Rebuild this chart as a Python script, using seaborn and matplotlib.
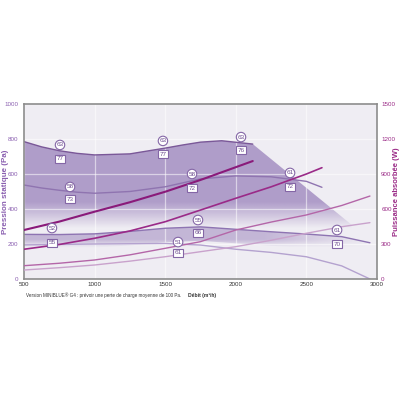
import numpy as np
import pandas as pd
import seaborn as sns
import matplotlib.pyplot as plt
from matplotlib.patches import Polygon
from matplotlib.colors import to_rgb

# Pressure curves (Pa) vs airflow (m3/h)
x_top = [500, 625, 750, 875, 1000, 1250, 1500, 1625, 1750, 1900, 2120]
p_top = [785, 755, 733, 718, 709, 715, 748, 766, 782, 790, 771]
x_mid = [500, 625, 750, 875, 1000, 1250, 1500, 1750, 2000, 2250, 2500, 2610]
p_mid = [537, 520, 507, 496, 490, 500, 527, 572, 589, 584, 558, 524]
x_low = [500, 750, 1000, 1250, 1500, 1750, 2000, 2250, 2500, 2750, 2950]
p_low = [255, 254, 258, 272, 290, 298, 284, 270, 257, 242, 207]
x_min = [500, 1000, 1500, 1750, 2000, 2250, 2500, 2750, 2950]
p_min = [195, 200, 203, 194, 170, 152, 127, 75, 0]

# Absorbed power curves (W)
x_w1 = [500, 750, 1000, 1250, 1500, 1750, 2120]
w1 = [420, 492, 577, 658, 748, 849, 1011]
x_w2 = [500, 750, 1000, 1250, 1500, 1750, 2000, 2250, 2500, 2610]
w2 = [255, 296, 349, 412, 491, 591, 692, 790, 900, 954]
x_w3 = [500, 750, 1000, 1250, 1500, 1750, 2000, 2250, 2500, 2750, 2950]
w3 = [114, 135, 163, 207, 263, 320, 420, 488, 549, 630, 711]
x_w4 = [500, 750, 1000, 1250, 1500, 1750, 2000, 2250, 2500, 2750, 2950]
w4 = [77, 97, 120, 153, 191, 234, 277, 332, 392, 448, 483]

# Sound labels: circle value / square value
circle_vals = ["63", "63", "63", "58", "58", "61", "52", "55", "51", "61"]
square_vals = ["77", "77", "76", "73", "72", "72", "55", "66", "61", "70"]
label_x = [755, 1484, 2037, 826, 1690, 2384, 698, 1732, 1591, 2717]
circle_y = [766, 789, 811, 526, 600, 606, 291, 337, 211, 280]
square_y = [686, 714, 737, 457, 520, 526, 206, 263, 149, 200]

x_ticks = [500, 1000, 1500, 2000, 2500, 3000]
p_ticks = [0, 200, 400, 600, 800, 1000]
w_ticks = [0, 300, 600, 900, 1200, 1500]

sns.set_style("white")
plt.rcParams['font.family'] = ['Liberation Sans', 'DejaVu Sans']

LABEL_PURPLE = '#8a5fb0'
MAGENTA = '#9a2a86'
FILL = '#7c5ca8'

fig = plt.figure(figsize=(4, 4), dpi=100)
ax = fig.add_axes([0.06, 0.3025, 0.8825, 0.4375])
ax.set_facecolor('#efedf3')


def gradient_fill(ax, xs, ys, alpha_fn, color):
    poly = Polygon(np.column_stack([xs, ys]), closed=True, fc='none', ec='none')
    ax.add_patch(poly)
    gx, gy = np.meshgrid(np.linspace(500, 3000, 300), np.linspace(0, 1000, 300))
    img = np.zeros((300, 300, 4))
    img[..., :3] = to_rgb(color)
    img[..., 3] = alpha_fn(gx, gy)
    im = ax.imshow(img, extent=[500, 3000, 0, 1000], origin='lower',
                   aspect='auto', zorder=1, interpolation='bilinear')
    im.set_clip_path(poly)


# upper shaded region (high/medium speed)
top_xs = x_top + [2820, 2820, 500]
top_ys = p_top + [310, 240, 240]
gradient_fill(ax, top_xs, top_ys,
              lambda gx, gy: np.clip((gy - 290) / 150, 0, 1) * 0.55,
              FILL)

# lower shaded band (low speed)
low_xs = x_low + x_low[::-1]
low_ys = p_low + [v - 80 for v in p_low[::-1]]
gradient_fill(ax, low_xs, low_ys,
              lambda gx, gy: np.clip((gy - 180) / 45, 0, 1) * 0.38
              * np.clip((3000 - gx) / 800, 0, 1),
              FILL)

pres = [(x_top, p_top, '#7a5898', 1.0), (x_mid, p_mid, '#8f74b0', 1.0),
        (x_low, p_low, '#8e74b2', 1.0), (x_min, p_min, '#b4a2cf', 1.0)]
for xs, ys, c, lw in pres:
    sns.lineplot(x=xs, y=ys, ax=ax, color=c, lw=lw, zorder=2)

ax.set_xlim(500, 3000)
ax.set_ylim(0, 1000)
ax.set_xticks(x_ticks)
ax.set_yticks(p_ticks)
ax.set_axisbelow('line')
ax.grid(True, color='white', lw=0.9, alpha=0.55)
for s in ax.spines.values():
    s.set_color('#8c8c8c')
    s.set_linewidth(1.2)
ax.tick_params(axis='x', labelsize=4.5, colors='#333333', length=0, pad=2)
ax.tick_params(axis='y', labelsize=4.5, colors=LABEL_PURPLE, length=0, pad=4)
ax.set_ylabel("Pression statique (Pa)", fontsize=5.8, color=LABEL_PURPLE,
              fontweight='bold')
ax.yaxis.set_label_coords(-0.042, 0.5)

ax2 = ax.twinx()
powers = [(x_w1, w1, '#8a1a7a', 1.5), (x_w2, w2, '#9a2a88', 1.2),
          (x_w3, w3, '#b466a8', 1.0), (x_w4, w4, '#c9a2cc', 1.0)]
for xs, ys, c, lw in powers:
    sns.lineplot(x=xs, y=ys, ax=ax2, color=c, lw=lw, zorder=2)
ax2.set_ylim(0, 1500)
ax2.set_yticks(w_ticks)
for s in ax2.spines.values():
    s.set_visible(False)
ax2.tick_params(axis='y', labelsize=4.5, colors=MAGENTA, length=0, pad=3)
ax2.set_ylabel("Puissance absorbée (W)", fontsize=5.5, color=MAGENTA,
               fontweight='bold', rotation=90)
ax2.yaxis.set_label_coords(1.046, 0.5)

for lx, cy, sy, cv, sv in zip(label_x, circle_y, square_y, circle_vals, square_vals):
    ax2.annotate(cv, (lx, cy), xycoords=ax.transData, ha='center', va='center',
                 fontsize=4.6, color='#6e4f90',
                 bbox=dict(boxstyle='circle,pad=0.18', fc='white', ec='#8466a6', lw=0.8))
    ax2.annotate(sv, (lx, sy), xycoords=ax.transData, ha='center', va='center',
                 fontsize=4.6, color='#6e4f90',
                 bbox=dict(boxstyle='square,pad=0.28', fc='white', ec='#8466a6', lw=0.8))

fig.text(0.065, 0.258, "Version MINIBLUE\u00ae G4 : prévoir une perte de charge moyenne de 100 Pa.",
         fontsize=3.3, color='#333333')
fig.text(0.47, 0.258, "Débit (m³/h)", fontsize=3.6, color='#333333', fontweight='bold')

fig.savefig('out.png', dpi=100, facecolor='white')
